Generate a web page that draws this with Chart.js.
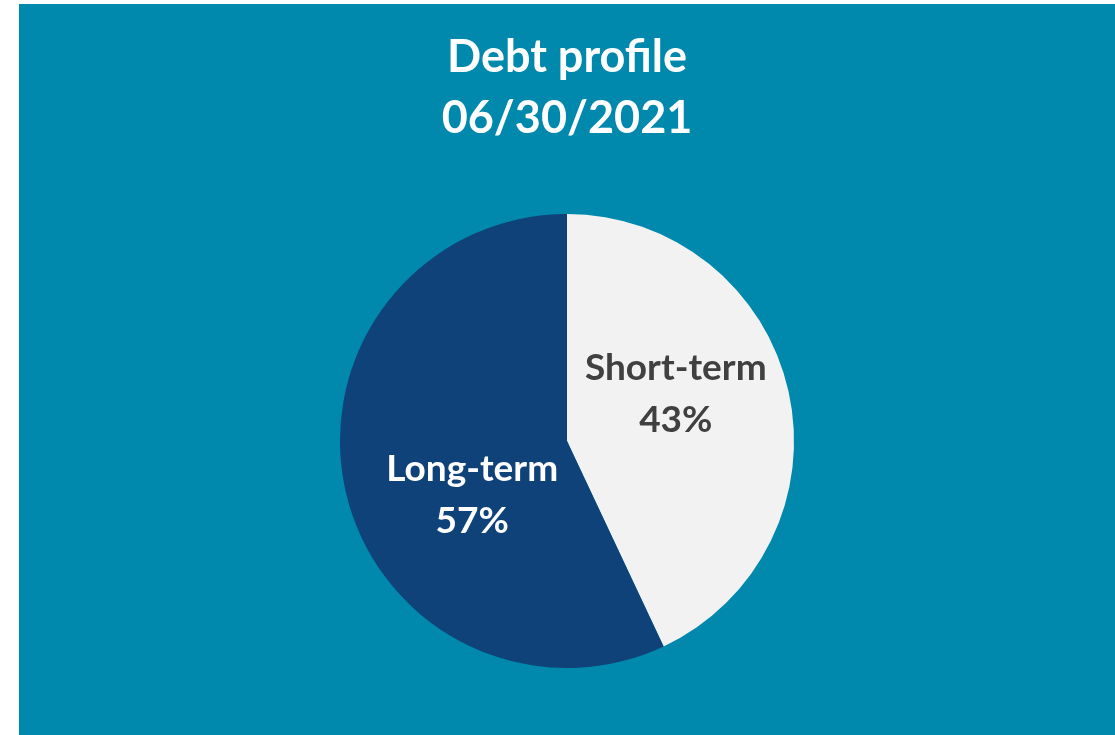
<!DOCTYPE html>
<html lang="en">
<head>
    <meta charset="UTF-8">
    <title>Debt profile</title>
    <script src="https://cdn.jsdelivr.net/npm/chart.js"></script>
    <style>
        html, body {
            margin: 0;
            padding: 0;
            background: #ffffff;
        }
        #wrap {
            position: absolute;
            left: 19px;
            top: 4px;
            width: 1096px;
            height: 731px;
            background-color: #0088ad;
        }
    </style>
</head>
<body>
    <div id="wrap">
        <canvas id="debt-chart"></canvas>
    </div>

    <script>
        // chart data
        const titleLines = ['Debt profile', '06/30/2021'];
        const categories = ['Short-term', 'Long-term'];
        const shares = [43, 57];
        const sliceColors = ['#f2f2f2', '#0e4279'];
        const labelColors = ['#404040', '#ffffff'];

        // where each label sits, as offset from the arc's center point
        const labelNudge = [[-2, -22], [16, 29]];

        const sliceLabels = {
            id: 'sliceLabels',
            afterDatasetsDraw(chart) {
                const ctx = chart.ctx;
                const meta = chart.getDatasetMeta(0);
                ctx.save();
                ctx.font = 'bold 37px Lato';
                ctx.textAlign = 'center';
                ctx.textBaseline = 'middle';
                meta.data.forEach(function(arc, i) {
                    const p = arc.tooltipPosition();
                    const x = p.x + labelNudge[i][0];
                    const y = p.y + labelNudge[i][1];
                    ctx.fillStyle = labelColors[i];
                    ctx.fillText(categories[i], x, y - 26);
                    ctx.fillText(shares[i] + '%', x, y + 26);
                });
                ctx.restore();
            }
        };

        new Chart(document.getElementById('debt-chart'), {
            type: 'pie',
            data: {
                labels: categories,
                datasets: [{
                    data: shares,
                    backgroundColor: sliceColors,
                    borderWidth: 0
                }]
            },
            options: {
                responsive: true,
                maintainAspectRatio: false,
                animation: false,
                layout: {
                    padding: { top: 0, bottom: 67, left: 0, right: 0 }
                },
                plugins: {
                    legend: { display: false },
                    tooltip: { enabled: false },
                    title: {
                        display: true,
                        text: titleLines,
                        color: '#ffffff',
                        font: { family: 'Lato', size: 45, weight: 'bold', lineHeight: 1.355 },
                        padding: { top: 23, bottom: 65 }
                    }
                }
            },
            plugins: [sliceLabels]
        });
    </script>
</body>
</html>
